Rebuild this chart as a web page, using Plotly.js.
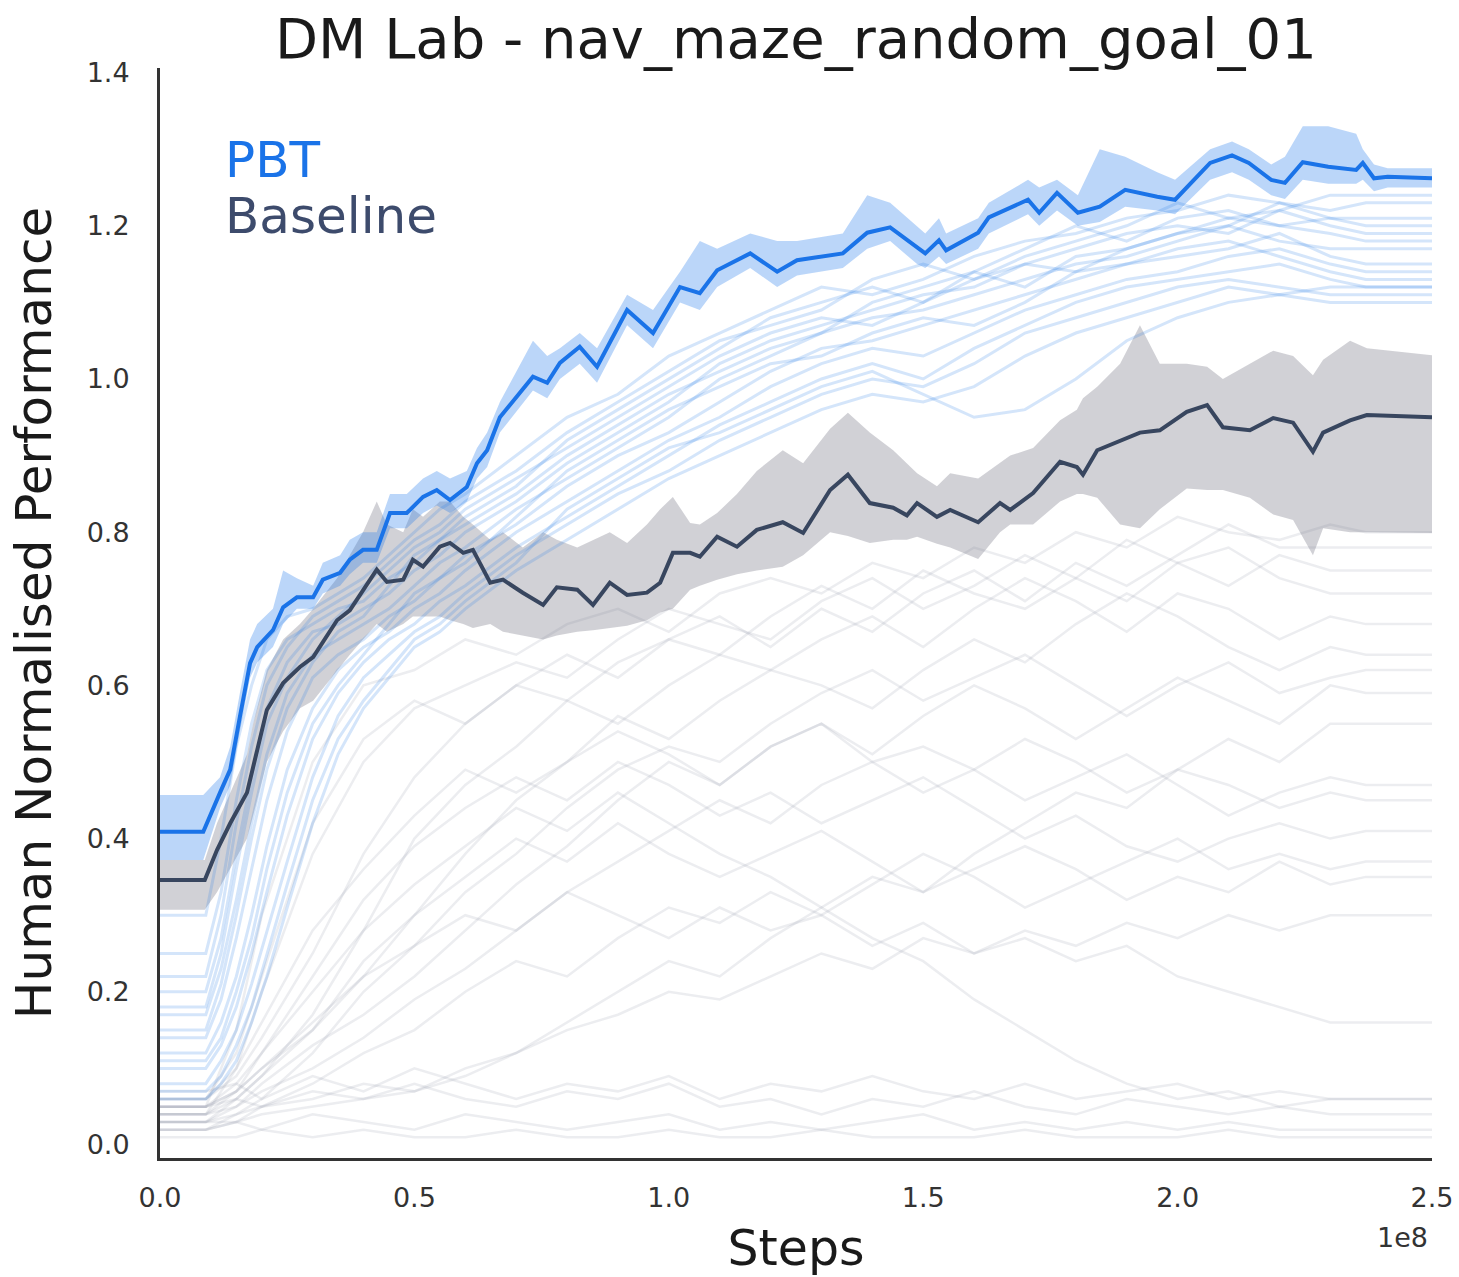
<!DOCTYPE html>
<html>
<head>
<meta charset="utf-8">
<script src="https://cdn.plot.ly/plotly-3.0.1.min.js"></script>
<style>html,body{margin:0;padding:0;background:#fff;}#chart{width:1459px;height:1277px;}</style>
</head>
<body>
<div id="chart"></div>
<script>
// ---------- DATA (steps in units of 1e8) ----------
const pbtX = [0, 0.085, 0.118, 0.138, 0.157, 0.177, 0.191, 0.222, 0.242, 0.269, 0.301, 0.320, 0.354, 0.373, 0.399, 0.426, 0.452, 0.485, 0.517, 0.544, 0.570, 0.603, 0.623, 0.643, 0.668, 0.733, 0.761, 0.786, 0.825, 0.859, 0.918, 0.969, 1.022, 1.061, 1.095, 1.160, 1.213, 1.252, 1.342, 1.390, 1.435, 1.488, 1.504, 1.531, 1.545, 1.608, 1.629, 1.706, 1.728, 1.763, 1.804, 1.847, 1.897, 1.960, 1.995, 2.064, 2.107, 2.140, 2.184, 2.211, 2.246, 2.296, 2.351, 2.364, 2.386, 2.413, 2.5];
const pbtY = [0.409, 0.409, 0.460, 0.490, 0.559, 0.629, 0.650, 0.672, 0.702, 0.715, 0.715, 0.738, 0.747, 0.764, 0.777, 0.777, 0.825, 0.825, 0.846, 0.855, 0.842, 0.859, 0.890, 0.907, 0.950, 1.003, 0.995, 1.021, 1.042, 1.016, 1.090, 1.060, 1.120, 1.112, 1.142, 1.164, 1.140, 1.155, 1.164, 1.191, 1.198, 1.172, 1.164, 1.181, 1.168, 1.191, 1.211, 1.234, 1.217, 1.243, 1.217, 1.225, 1.247, 1.238, 1.234, 1.282, 1.292, 1.282, 1.260, 1.256, 1.283, 1.277, 1.273, 1.282, 1.262, 1.264, 1.262];
const pbtHi = [0.457, 0.457, 0.48, 0.52, 0.59, 0.66, 0.68, 0.70, 0.75, 0.74, 0.73, 0.76, 0.77, 0.79, 0.80, 0.80, 0.85, 0.85, 0.87, 0.88, 0.87, 0.88, 0.91, 0.93, 0.97, 1.05, 1.03, 1.04, 1.06, 1.04, 1.11, 1.09, 1.14, 1.18, 1.17, 1.19, 1.18, 1.18, 1.19, 1.24, 1.23, 1.20, 1.19, 1.21, 1.19, 1.21, 1.23, 1.26, 1.25, 1.26, 1.24, 1.30, 1.29, 1.27, 1.26, 1.30, 1.31, 1.30, 1.28, 1.29, 1.33, 1.33, 1.32, 1.30, 1.28, 1.275, 1.275];
const pbtLo = [0.372, 0.372, 0.44, 0.47, 0.54, 0.61, 0.63, 0.65, 0.68, 0.70, 0.70, 0.72, 0.73, 0.745, 0.76, 0.76, 0.805, 0.805, 0.825, 0.835, 0.825, 0.84, 0.87, 0.885, 0.93, 0.985, 0.975, 1.0, 1.02, 0.995, 1.07, 1.04, 1.10, 1.09, 1.12, 1.145, 1.12, 1.135, 1.145, 1.17, 1.18, 1.15, 1.145, 1.16, 1.15, 1.17, 1.19, 1.215, 1.2, 1.22, 1.2, 1.205, 1.225, 1.22, 1.215, 1.26, 1.27, 1.26, 1.24, 1.235, 1.26, 1.255, 1.255, 1.26, 1.245, 1.25, 1.25];

const baseX = [0, 0.088, 0.112, 0.138, 0.171, 0.183, 0.210, 0.242, 0.275, 0.301, 0.348, 0.373, 0.399, 0.426, 0.446, 0.478, 0.497, 0.517, 0.550, 0.570, 0.596, 0.615, 0.649, 0.674, 0.713, 0.753, 0.780, 0.820, 0.851, 0.884, 0.918, 0.957, 0.983, 1.008, 1.042, 1.061, 1.095, 1.134, 1.173, 1.224, 1.264, 1.317, 1.352, 1.395, 1.441, 1.468, 1.488, 1.527, 1.553, 1.608, 1.651, 1.671, 1.716, 1.769, 1.802, 1.814, 1.842, 1.887, 1.926, 1.965, 2.018, 2.058, 2.089, 2.142, 2.188, 2.227, 2.266, 2.286, 2.339, 2.372, 2.5];
const baseY = [0.346, 0.346, 0.385, 0.420, 0.460, 0.493, 0.568, 0.603, 0.624, 0.637, 0.685, 0.698, 0.725, 0.751, 0.735, 0.738, 0.764, 0.755, 0.781, 0.786, 0.773, 0.777, 0.734, 0.738, 0.721, 0.705, 0.728, 0.725, 0.705, 0.734, 0.718, 0.721, 0.734, 0.773, 0.773, 0.768, 0.794, 0.781, 0.803, 0.813, 0.799, 0.855, 0.875, 0.838, 0.832, 0.822, 0.838, 0.820, 0.829, 0.813, 0.838, 0.829, 0.851, 0.892, 0.885, 0.875, 0.907, 0.920, 0.930, 0.933, 0.957, 0.966, 0.937, 0.933, 0.949, 0.943, 0.905, 0.930, 0.946, 0.953, 0.950];
const baseHi = [0.372, 0.372, 0.42, 0.46, 0.51, 0.55, 0.62, 0.66, 0.68, 0.70, 0.74, 0.77, 0.80, 0.84, 0.81, 0.80, 0.83, 0.82, 0.84, 0.84, 0.82, 0.81, 0.79, 0.80, 0.78, 0.80, 0.79, 0.78, 0.79, 0.80, 0.786, 0.81, 0.83, 0.846, 0.812, 0.81, 0.825, 0.85, 0.88, 0.907, 0.89, 0.935, 0.956, 0.93, 0.907, 0.89, 0.877, 0.86, 0.877, 0.87, 0.89, 0.90, 0.91, 0.946, 0.96, 0.975, 0.99, 1.02, 1.07, 1.02, 1.02, 1.016, 1.0, 1.02, 1.037, 1.03, 1.005, 1.025, 1.05, 1.04, 1.031];
const baseLo = [0.307, 0.307, 0.33, 0.36, 0.40, 0.43, 0.50, 0.54, 0.57, 0.58, 0.62, 0.64, 0.66, 0.68, 0.67, 0.68, 0.69, 0.69, 0.69, 0.685, 0.68, 0.675, 0.68, 0.67, 0.665, 0.66, 0.665, 0.67, 0.672, 0.675, 0.678, 0.685, 0.695, 0.70, 0.725, 0.73, 0.738, 0.745, 0.75, 0.755, 0.77, 0.80, 0.795, 0.786, 0.79, 0.79, 0.794, 0.785, 0.78, 0.765, 0.80, 0.81, 0.81, 0.84, 0.85, 0.85, 0.845, 0.81, 0.805, 0.83, 0.857, 0.855, 0.855, 0.845, 0.823, 0.816, 0.77, 0.805, 0.80, 0.80, 0.799];

// PBT population members
const popX = [0, 0.09, 0.12, 0.15, 0.18, 0.21, 0.25, 0.3, 0.35, 0.4, 0.45, 0.5, 0.55, 0.6, 0.7, 0.8, 0.9, 1.0, 1.1, 1.2, 1.3, 1.4, 1.5, 1.6, 1.7, 1.8, 1.9, 2.0, 2.1, 2.2, 2.3, 2.37, 2.5];
const pop01 = [0.30,0.30,0.40,0.52,0.60,0.66,0.69,0.70,0.72,0.74,0.77,0.80,0.83,0.85,0.90,0.95,0.98,1.03,1.06,1.09,1.12,1.11,1.13,1.16,1.18,1.19,1.21,1.22,1.24,1.23,1.22,1.23,1.23];
const pop02 = [0.25,0.25,0.33,0.45,0.55,0.62,0.66,0.68,0.70,0.71,0.74,0.76,0.79,0.82,0.86,0.92,0.96,1.00,1.04,1.08,1.10,1.12,1.10,1.14,1.17,1.20,1.18,1.21,1.22,1.20,1.21,1.21,1.21];
const pop03 = [0.20,0.20,0.27,0.38,0.48,0.57,0.63,0.67,0.68,0.70,0.72,0.75,0.77,0.80,0.84,0.89,0.93,0.97,1.02,1.05,1.07,1.09,1.11,1.12,1.15,1.17,1.19,1.20,1.19,1.22,1.20,1.19,1.19];
const pop04 = [0.17,0.17,0.23,0.32,0.42,0.51,0.59,0.64,0.66,0.68,0.70,0.73,0.76,0.78,0.83,0.87,0.91,0.95,1.00,1.03,1.06,1.08,1.09,1.11,1.13,1.15,1.16,1.18,1.20,1.18,1.17,1.17,1.17];
const pop05 = [0.14,0.14,0.19,0.27,0.36,0.45,0.54,0.61,0.64,0.66,0.69,0.71,0.74,0.77,0.81,0.86,0.90,0.93,0.97,1.01,1.04,1.05,1.07,1.09,1.11,1.13,1.15,1.16,1.17,1.19,1.16,1.15,1.15];
const pop06 = [0.12,0.12,0.16,0.22,0.30,0.39,0.49,0.57,0.62,0.65,0.67,0.70,0.72,0.75,0.80,0.84,0.88,0.92,0.95,0.99,1.02,1.04,1.03,1.06,1.09,1.11,1.13,1.14,1.16,1.17,1.15,1.14,1.14];
const pop07 = [0.10,0.10,0.13,0.18,0.25,0.33,0.43,0.53,0.59,0.63,0.66,0.68,0.71,0.73,0.78,0.82,0.86,0.90,0.94,0.97,1.00,1.02,1.00,1.04,1.07,1.10,1.12,1.13,1.14,1.15,1.13,1.12,1.12];
const pop08 = [0.08,0.08,0.11,0.15,0.21,0.28,0.37,0.48,0.56,0.61,0.64,0.67,0.69,0.72,0.77,0.81,0.85,0.88,0.92,0.95,0.98,1.00,0.99,1.02,1.06,1.08,1.10,1.12,1.13,1.12,1.11,1.11,1.11];
const pop09 = [0.06,0.06,0.08,0.11,0.16,0.22,0.31,0.42,0.51,0.57,0.61,0.65,0.67,0.70,0.75,0.79,0.83,0.87,0.90,0.93,0.96,0.98,0.97,0.99,1.03,1.06,1.08,1.10,1.12,1.11,1.10,1.10,1.10];
const pop10 = [0.22,0.22,0.30,0.42,0.52,0.60,0.65,0.69,0.71,0.73,0.76,0.79,0.81,0.84,0.88,0.93,0.97,1.01,1.05,1.07,1.09,1.13,1.15,1.13,1.16,1.18,1.20,1.23,1.21,1.22,1.24,1.24,1.24];
const pop11 = [0.15,0.15,0.21,0.30,0.40,0.49,0.57,0.63,0.67,0.69,0.73,0.77,0.79,0.81,0.85,0.90,0.94,0.98,1.01,1.04,1.06,1.10,1.12,1.14,1.12,1.16,1.17,1.19,1.21,1.20,1.19,1.18,1.18];
const pop12 = [0.11,0.11,0.14,0.20,0.27,0.36,0.46,0.55,0.60,0.64,0.68,0.72,0.74,0.76,0.82,0.88,0.92,0.96,0.99,1.02,1.03,1.06,1.08,1.07,1.10,1.14,1.15,1.17,1.18,1.16,1.14,1.13,1.13];
const pop13 = [0.07,0.07,0.09,0.13,0.18,0.25,0.34,0.45,0.53,0.58,0.62,0.66,0.68,0.71,0.76,0.83,0.87,0.91,0.93,0.96,0.99,1.01,0.98,0.95,0.96,1.00,1.05,1.08,1.10,1.11,1.12,1.12,1.12];
const pop14 = [0.18,0.18,0.25,0.36,0.46,0.55,0.61,0.66,0.69,0.72,0.75,0.78,0.80,0.83,0.87,0.91,0.95,0.99,1.03,1.06,1.08,1.07,1.10,1.13,1.15,1.14,1.17,1.19,1.20,1.23,1.21,1.20,1.20];

// Baseline population members
const runX = [0, 0.09, 0.15, 0.2, 0.3, 0.4, 0.5, 0.6, 0.7, 0.8, 0.9, 1.0, 1.1, 1.2, 1.3, 1.4, 1.5, 1.6, 1.7, 1.8, 1.9, 2.0, 2.1, 2.2, 2.3, 2.37, 2.5];
const run01 = [0.05,0.05,0.15,0.30,0.50,0.60,0.62,0.66,0.64,0.68,0.70,0.67,0.72,0.74,0.72,0.76,0.74,0.78,0.76,0.80,0.78,0.82,0.80,0.79,0.81,0.80,0.80];
const run02 = [0.04,0.04,0.10,0.20,0.38,0.50,0.57,0.60,0.63,0.61,0.66,0.70,0.68,0.66,0.71,0.74,0.70,0.73,0.77,0.74,0.79,0.76,0.73,0.77,0.75,0.75,0.75];
const run03 = [0.06,0.06,0.09,0.14,0.25,0.38,0.48,0.55,0.60,0.58,0.63,0.66,0.64,0.69,0.73,0.70,0.75,0.72,0.70,0.74,0.71,0.76,0.78,0.74,0.72,0.72,0.72];
const run04 = [0.03,0.03,0.06,0.09,0.17,0.28,0.40,0.47,0.52,0.58,0.55,0.60,0.64,0.62,0.66,0.69,0.65,0.70,0.74,0.71,0.67,0.72,0.70,0.66,0.69,0.68,0.68];
const run05 = [0.05,0.05,0.07,0.10,0.15,0.22,0.30,0.38,0.45,0.50,0.56,0.53,0.58,0.62,0.60,0.57,0.62,0.66,0.63,0.68,0.72,0.69,0.65,0.62,0.65,0.64,0.64];
const run06 = [0.02,0.02,0.04,0.06,0.12,0.20,0.26,0.33,0.38,0.44,0.49,0.52,0.50,0.55,0.59,0.62,0.58,0.61,0.64,0.60,0.56,0.60,0.63,0.59,0.61,0.62,0.62];
const run07 = [0.04,0.04,0.05,0.08,0.13,0.17,0.22,0.28,0.34,0.39,0.45,0.50,0.47,0.52,0.55,0.51,0.56,0.60,0.57,0.53,0.57,0.61,0.58,0.55,0.60,0.59,0.59];
const run08 = [0.06,0.06,0.10,0.16,0.28,0.36,0.43,0.49,0.46,0.50,0.54,0.51,0.47,0.52,0.55,0.50,0.46,0.49,0.45,0.48,0.51,0.47,0.43,0.46,0.48,0.47,0.47];
const run09 = [0.03,0.03,0.05,0.07,0.10,0.14,0.19,0.23,0.28,0.33,0.37,0.41,0.45,0.42,0.47,0.50,0.52,0.49,0.53,0.50,0.46,0.49,0.47,0.44,0.46,0.45,0.45];
const run10 = [0.05,0.05,0.08,0.12,0.22,0.32,0.39,0.44,0.48,0.45,0.50,0.47,0.43,0.46,0.42,0.45,0.48,0.44,0.40,0.43,0.39,0.37,0.40,0.42,0.40,0.41,0.41];
const run11 = [0.02,0.02,0.03,0.05,0.08,0.12,0.15,0.20,0.24,0.22,0.27,0.31,0.29,0.33,0.30,0.34,0.38,0.35,0.31,0.34,0.37,0.40,0.36,0.38,0.36,0.37,0.37];
const run12 = [0.04,0.04,0.06,0.09,0.15,0.24,0.30,0.35,0.40,0.37,0.42,0.38,0.35,0.38,0.41,0.37,0.33,0.36,0.39,0.36,0.32,0.35,0.33,0.37,0.34,0.35,0.35];
const run13 = [0.03,0.03,0.03,0.04,0.05,0.06,0.07,0.09,0.12,0.15,0.17,0.20,0.19,0.22,0.25,0.23,0.27,0.25,0.28,0.26,0.29,0.27,0.30,0.28,0.30,0.30,0.30];
const run14 = [0.05,0.05,0.07,0.10,0.16,0.22,0.26,0.30,0.28,0.33,0.30,0.27,0.31,0.28,0.30,0.26,0.29,0.25,0.27,0.24,0.26,0.22,0.20,0.18,0.16,0.16,0.16];
const run15 = [0.04,0.04,0.07,0.12,0.20,0.28,0.34,0.39,0.44,0.41,0.46,0.42,0.38,0.35,0.31,0.27,0.24,0.19,0.15,0.11,0.08,0.06,0.07,0.05,0.06,0.06,0.06];
const run16 = [0.05,0.05,0.06,0.05,0.07,0.06,0.08,0.06,0.05,0.07,0.06,0.08,0.05,0.06,0.04,0.06,0.05,0.07,0.05,0.04,0.06,0.05,0.04,0.05,0.04,0.04,0.04];
const run17 = [0.02,0.02,0.03,0.02,0.04,0.03,0.02,0.04,0.03,0.02,0.03,0.04,0.02,0.03,0.02,0.03,0.04,0.02,0.03,0.02,0.03,0.02,0.03,0.02,0.02,0.02,0.02];
const run18 = [0.01,0.01,0.01,0.02,0.01,0.02,0.01,0.01,0.02,0.01,0.01,0.02,0.01,0.01,0.02,0.01,0.01,0.01,0.02,0.01,0.01,0.01,0.02,0.01,0.01,0.01,0.01];
const run19 = [0.07,0.07,0.08,0.06,0.09,0.07,0.10,0.08,0.06,0.08,0.07,0.09,0.06,0.08,0.07,0.09,0.07,0.06,0.08,0.06,0.07,0.08,0.06,0.07,0.06,0.06,0.06];
const run20 = [0.03,0.03,0.04,0.05,0.06,0.08,0.07,0.10,0.12,0.16,0.20,0.24,0.22,0.27,0.31,0.35,0.33,0.38,0.42,0.46,0.44,0.49,0.53,0.50,0.55,0.55,0.55];
const run21 = [0.06,0.06,0.12,0.22,0.42,0.53,0.58,0.55,0.60,0.64,0.61,0.66,0.69,0.65,0.70,0.67,0.72,0.75,0.71,0.76,0.73,0.77,0.81,0.78,0.78,0.78,0.78];

const xTickVals = [0, 0.5, 1.0, 1.5, 2.0, 2.5];
const xTickText = ['0.0', '0.5', '1.0', '1.5', '2.0', '2.5'];
const yTickVals = [0, 0.2, 0.4, 0.6, 0.8, 1.0, 1.2, 1.4];
const yTickText = ['0.0', '0.2', '0.4', '0.6', '0.8', '1.0', '1.2', '1.4'];

// ---------- STYLE ----------
const PBT_COLOR = '#1a73e8';
const BASE_COLOR = '#38465f';
const FONT = 'DejaVu Sans, Liberation Sans, sans-serif';

const traces = [];
const baseRuns = [run01, run02, run03, run04, run05, run06, run07, run08, run09, run10, run11, run12, run13, run14, run15, run16, run17, run18, run19, run20, run21];
baseRuns.forEach(r => traces.push({x: runX, y: r, mode: 'lines', line: {color: 'rgba(160,166,182,0.2)', width: 2.5}, hoverinfo: 'skip', showlegend: false}));

traces.push({x: baseX, y: baseLo, mode: 'lines', line: {width: 0}, hoverinfo: 'skip', showlegend: false});
traces.push({x: baseX, y: baseHi, mode: 'lines', line: {width: 0}, fill: 'tonexty', fillcolor: 'rgba(120,120,135,0.34)', hoverinfo: 'skip', showlegend: false});

const pbtPop = [pop01, pop02, pop03, pop04, pop05, pop06, pop07, pop08, pop09, pop10, pop11, pop12, pop13, pop14];
pbtPop.forEach(p => traces.push({x: popX, y: p, mode: 'lines', line: {color: 'rgba(40,125,230,0.2)', width: 3}, hoverinfo: 'skip', showlegend: false}));

traces.push({x: pbtX, y: pbtLo, mode: 'lines', line: {width: 0}, hoverinfo: 'skip', showlegend: false});
traces.push({x: pbtX, y: pbtHi, mode: 'lines', line: {width: 0}, fill: 'tonexty', fillcolor: 'rgba(30,120,235,0.30)', hoverinfo: 'skip', showlegend: false});

traces.push({x: baseX, y: baseY, mode: 'lines', name: 'Baseline', line: {color: BASE_COLOR, width: 4}, showlegend: false});
traces.push({x: pbtX, y: pbtY, mode: 'lines', name: 'PBT', line: {color: PBT_COLOR, width: 4}, showlegend: false});

const layout = {
  width: 1459, height: 1277,
  paper_bgcolor: '#ffffff', plot_bgcolor: '#ffffff',
  margin: {l: 160, r: 27, t: 68, b: 119},
  font: {family: FONT, color: '#262626'},
  title: {text: 'DM Lab - nav_maze_random_goal_01', font: {family: FONT, size: 56, color: '#1a1a1a'},
          x: 0.5455, xref: 'container', xanchor: 'center', y: 1 - 38/1277, yref: 'container', yanchor: 'middle'},
  xaxis: {range: [0, 2.5], showgrid: false, zeroline: false, showline: true, linecolor: '#333333', linewidth: 3,
          ticks: '', tickvals: xTickVals, ticktext: xTickText, tickfont: {family: FONT, size: 27, color: '#333333'},
          ticklabelstandoff: 14,
          title: {text: 'Steps', font: {family: FONT, size: 49, color: '#1a1a1a'}, standoff: 22}},
  yaxis: {range: [-0.017, 1.406], showgrid: false, zeroline: false, showline: true, linecolor: '#333333', linewidth: 3,
          ticks: '', tickvals: yTickVals, ticktext: yTickText, tickfont: {family: FONT, size: 27, color: '#333333'},
          ticklabelstandoff: 22,
          title: {text: 'Human Normalised Performance', font: {family: FONT, size: 50, color: '#1a1a1a'}, standoff: 20}},
  annotations: [
    {text: 'PBT', xref: 'paper', yref: 'paper', x: (223-160)/1272, y: 1 - (160-68)/1090, xanchor: 'left', yanchor: 'middle', showarrow: false, font: {family: FONT, size: 50, color: PBT_COLOR}},
    {text: 'Baseline', xref: 'paper', yref: 'paper', x: (223-160)/1272, y: 1 - (216-68)/1090, xanchor: 'left', yanchor: 'middle', showarrow: false, font: {family: FONT, size: 50, color: '#3d4b6c'}},
    {text: '1e8', xref: 'paper', yref: 'paper', x: (1402-160)/1272, y: 1 - (1237-68)/1090, xanchor: 'center', yanchor: 'middle', showarrow: false, font: {family: FONT, size: 27, color: '#333333'}}
  ],
  showlegend: false
};

Plotly.newPlot('chart', traces, layout, {displayModeBar: false, staticPlot: true});
</script>
</body>
</html>
